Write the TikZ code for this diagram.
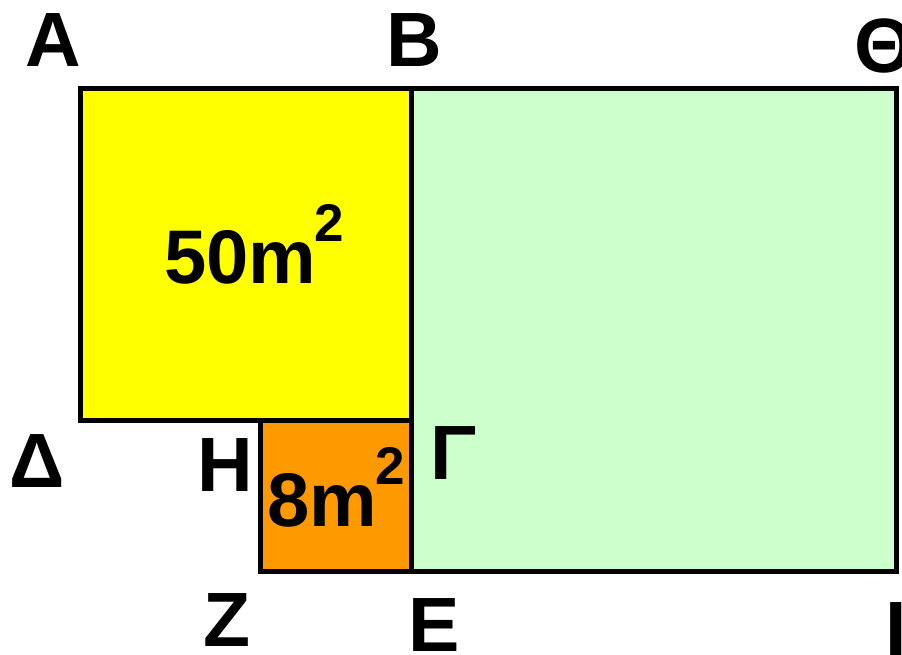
\documentclass[tikz,border=0pt]{standalone}
\usepackage{fontspec}
\setmainfont{Liberation Sans}
\usetikzlibrary{positioning, calc}
\definecolor{bigcolor}  {RGB}{255, 255,   0}
\definecolor{smallcolor}{RGB}{255, 153,   0}
\definecolor{restcolor} {RGB}{204, 255, 204}
\newcommand{\sqm}[1]{#1m\hspace{-2pt}\raisebox{42pt}{\fontsize{53}{53}\selectfont 2}}
\tikzset{
	sqbox/.style={
		draw=black, line width=5pt, line join=miter
	},
	ptlabel/.style={
		inner sep=0pt, font=\fontsize{77}{77}\selectfont\bfseries
	},
	arealabel/.style={
		inner sep=0pt, anchor=base west,
		font=\fontsize{76}{76}\selectfont\bfseries
	}
}
\begin{document}
\begin{tikzpicture}[x=1pt, y=-1pt]
	\useasboundingbox (0,0) rectangle (902,655);
	
	%% ═══════════════════════════════
	%%  CORNERS
	%% ═══════════════════════════════
	\coordinate (A)  at (80,89);
	\coordinate (B)  at (411,89);
	\coordinate (Th) at (896,89);
	\coordinate (D)  at (80,420);
	\coordinate (H)  at (260,420);
	\coordinate (G)  at (411,420);
	\coordinate (Z)  at (260,571);
	\coordinate (E)  at (411,571);
	\coordinate (I)  at (896,571);
	
	%% ═══════════════════════════════
	%%  SQUARES
	%% ═══════════════════════════════
	\draw[sqbox, fill=restcolor]  (B) rectangle (I);
	\draw[sqbox, fill=bigcolor]   (A) rectangle (G);
	\draw[sqbox, fill=smallcolor] (H) rectangle (E);
	
	%% ═══════════════════════════════
	%%  AREAS
	%% ═══════════════════════════════
	\node[arealabel] (big)   at (164,283) {\sqm{50}};
	\node[arealabel] (small) at (267,526) {\sqm{8}};
	
	%% ═══════════════════════════════
	%%  LABELS
	%% ═══════════════════════════════
	\node[ptlabel] (lA)  at (53.5,40.5) {A};
	\node[ptlabel] (lB)  at (414,40.5)  {B};
	\node[ptlabel] (lTh) at (884,46)    {Θ};
	\node[ptlabel] (lD)  at (37,461)    {Δ};
	\node[ptlabel] (lH)  at (225,465)   {H};
	\node[ptlabel] (lG)  at (454,453)   {Γ};
	\node[ptlabel] (lZ)  at (227,620)   {Z};
	\node[ptlabel] (lE)  at (434,625)   {E};
	\node[ptlabel] (lI)  at (896,629)   {I};
\end{tikzpicture}
\end{document}
